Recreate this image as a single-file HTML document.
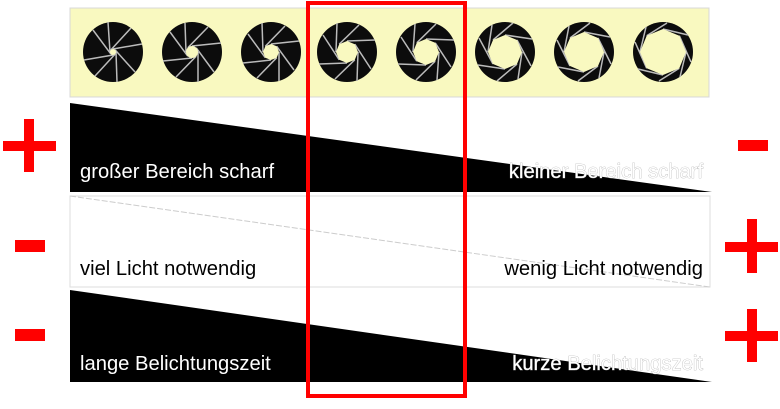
<!DOCTYPE html>
<html><head><meta charset="utf-8"><style>html,body{margin:0;padding:0;background:#fff;}</style></head>
<body>
<svg width="780" height="404" viewBox="0 0 780 404" xmlns="http://www.w3.org/2000/svg" font-family="Liberation Sans, sans-serif">
<rect x="70" y="8" width="639" height="89" fill="#f9f9c0" stroke="#d8d8d8"/>
<polygon points="70,103 712,192 70,192" fill="#000"/>
<rect x="70" y="196" width="640" height="91" fill="#fff" stroke="#ddd"/>
<line x1="70" y1="196" x2="710" y2="287" stroke="#ccc" stroke-dasharray="6,2"/>
<polygon points="70,290 712,382 70,382" fill="#000"/>
<g font-size="20.2">
<text x="80" y="178" fill="#fff">großer Bereich scharf</text>
<text x="703" y="178" fill="#fff" stroke="#aaa" stroke-width="0.6" paint-order="stroke" text-anchor="end">kleiner Bereich scharf</text>
<text x="80" y="275" fill="#000">viel Licht notwendig</text>
<text x="703" y="275" fill="#000" text-anchor="end">wenig Licht notwendig</text>
<text x="80" y="370" fill="#fff">lange Belichtungszeit</text>
<text x="703" y="370" fill="#fff" stroke="#aaa" stroke-width="0.6" paint-order="stroke" text-anchor="end">kurze Belichtungszeit</text>
</g>
<rect x="308" y="3" width="157" height="393" fill="none" stroke="#f00" stroke-width="4"/>
<g fill="#f00">
<rect x="3" y="141" width="53" height="10"/><rect x="24" y="119" width="10" height="53"/>
<rect x="15" y="240" width="30" height="12"/>
<rect x="15" y="329" width="30" height="12"/>
<rect x="738" y="140" width="30" height="11"/>
<rect x="725" y="242" width="53" height="10"/><rect x="747" y="219" width="10" height="54"/>
<rect x="725" y="331" width="53" height="10"/><rect x="747" y="309" width="10" height="53"/>
</g>
<g>
<g transform="translate(113,52)"><circle r="30" fill="#0c0c0c"/><g stroke="#bbb" stroke-width="1.5" fill="none"><path d="M3,0 L4,30 M2.1,2.1 L-18,24 M0,3 L-29,8 M-2.1,2.1 L-20,-22 M-3,0 L-5,-30 M-2.1,-2.1 L18,-24 M0,-3 L29,-8 M2.1,-2.1 L22,20"/></g><circle r="3" fill="#f9f9c0"/></g>
<g transform="translate(192,52)"><circle r="30" fill="#0c0c0c"/><g stroke="#bbb" stroke-width="1.5" fill="none"><path d="M6,0 L6,30 M4.2,4.2 L-16,25 M0,6 L-29,9 M-4.2,4.2 L-22,-20 M-6,0 L-7,-29 M-4.2,-4.2 L16,-25 M0,-6 L29,-9 M4.2,-4.2 L22,20"/></g><circle r="6" fill="#f9f9c0"/></g>
<g transform="translate(271,52)"><circle r="30" fill="#0c0c0c"/><g stroke="#bbb" stroke-width="1.5" fill="none"><path d="M8,0 L8,29 M5.7,5.7 L-14,26 M0,8 L-28,11 M-5.7,5.7 L-23,-18 M-8,0 L-9,-29 M-5.7,-5.7 L14,-26 M0,-8 L28,-11 M5.7,-5.7 L23,18"/></g><polygon points="8,0 5.7,5.7 0,8 -5.7,5.7 -8,0 -5.7,-5.7 0,-8 5.7,-5.7" fill="#f9f9c0"/></g>
<g transform="translate(347,52)"><circle r="30" fill="#0c0c0c"/><g stroke="#bbb" stroke-width="1.5" fill="none"><path d="M11,0 L10,29 M7.8,7.8 L-12,27 M0,11 L-28,12 M-7.8,7.8 L-24,-17 M-11,0 L-10,-29 M-7.8,-7.8 L12,-27 M0,-11 L28,-12 M7.8,-7.8 L24,17"/></g><polygon points="11,0 7.8,7.8 0,11 -7.8,7.8 -11,0 -7.8,-7.8 0,-11 7.8,-7.8" fill="#f9f9c0"/></g>
<g transform="translate(426,52)"><circle r="30" fill="#0c0c0c"/><g stroke="#bbb" stroke-width="1.5" fill="none"><path d="M13,0 L11,28 M9.2,9.2 L-10,28 M0,13 L-28,12 M-9.2,9.2 L-25,-15 M-13,0 L-11,-28 M-9.2,-9.2 L10,-28 M0,-13 L28,-12 M9.2,-9.2 L25,15"/></g><polygon points="13,0 9.2,9.2 0,13 -9.2,9.2 -13,0 -9.2,-9.2 0,-13 9.2,-9.2" fill="#f9f9c0"/></g>
<g transform="translate(505,52)"><circle r="30" fill="#0c0c0c"/><g stroke="#bbb" stroke-width="1.5" fill="none"><path d="M17,0 L13,27 M12,12 L-8,29 M0,17 L-27,13 M-12,12 L-26,-14 M-17,0 L-13,-27 M-12,-12 L8,-29 M0,-17 L27,-13 M12,-12 L26,14"/></g><polygon points="17,0 12,12 0,17 -12,12 -17,0 -12,-12 0,-17 12,-12" fill="#f9f9c0"/></g>
<g transform="translate(584,52)"><circle r="30" fill="#0c0c0c"/><g stroke="#bbb" stroke-width="1.5" fill="none"><path d="M20,0 L15,26 M14,14 L-6,29 M0,20 L-26,15 M-14,14 L-27,-12 M-20,0 L-15,-26 M-14,-14 L6,-29 M0,-20 L26,-15 M14,-14 L27,12"/></g><polygon points="20,0 14,14 0,20 -14,14 -20,0 -14,-14 0,-20 14,-14" fill="#f9f9c0"/></g>
<g transform="translate(663,52)"><circle r="30" fill="#0c0c0c"/><g stroke="#bbb" stroke-width="1.5" fill="none"><path d="M23,0 L17,25 M16.3,16.3 L-4,29 M0,23 L-25,17 M-16.3,16.3 L-28,-10 M-23,0 L-17,-25 M-16.3,-16.3 L4,-29 M0,-23 L25,-17 M16.3,-16.3 L28,10"/></g><polygon points="23,0 16.3,16.3 0,23 -16.3,16.3 -23,0 -16.3,-16.3 0,-23 16.3,-16.3" fill="#f9f9c0"/></g>
</g>
</svg>
</body></html>
